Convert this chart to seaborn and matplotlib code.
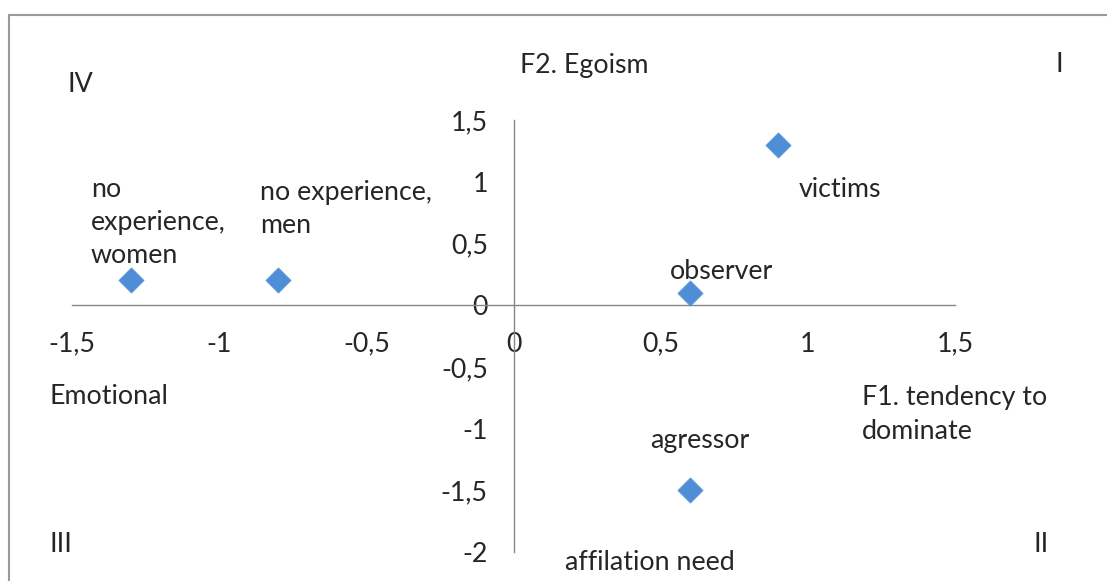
import pandas as pd
import matplotlib.pyplot as plt
import seaborn as sns
from matplotlib.lines import Line2D

# Data: groups on the two factor axes
groups = ['no\nexperience,\nwomen', 'no experience,\nmen', 'observer', 'victims', 'agressor']
f1_values = [-1.3, -0.8, 0.6, 0.9, 0.6]
f2_values = [0.2, 0.2, 0.1, 1.3, -1.5]
x_ticks = [-1.5, -1, -0.5, 0, 0.5, 1, 1.5]
x_tick_labels = ['-1,5', '-1', '-0,5', '0', '0,5', '1', '1,5']
y_ticks = [-2, -1.5, -1, -0.5, 0, 0.5, 1, 1.5]
y_tick_labels = ['-2', '-1,5', '-1', '-0,5', '0', '0,5', '1', '1,5']

df = pd.DataFrame({'F1': f1_values, 'F2': f2_values, 'Group': groups})

W, H = 1107, 581
sns.set_style('white')
plt.rcParams['font.family'] = ['Lato', 'DejaVu Sans']
FS = 19.3
AXIS_COLOR = '#868686'

fig = plt.figure(figsize=(W / 100, H / 100), dpi=100)


def px(x, y):
    # pixel position -> figure fraction
    return x / W, 1 - y / H


ax = fig.add_axes([72 / W, 1 - 552 / H, (955 - 72) / W, (552 - 120) / H])

sns.scatterplot(data=df, x='F1', y='F2', ax=ax, marker='D', s=165,
                color='#4F8ED6', edgecolor='#5B98DC', linewidth=0.5,
                legend=False, zorder=3, clip_on=False)

ax.set_xlim(-1.5, 1.5)
ax.set_ylim(-2, 1.5)
ax.set_xticks(x_ticks)
ax.set_xticklabels(x_tick_labels)
ax.set_yticks(y_ticks)
ax.set_yticklabels(y_tick_labels)
ax.set_xlabel('')
ax.set_ylabel('')

for side in ['top', 'right']:
    ax.spines[side].set_visible(False)
ax.spines['left'].set_position(('data', 0))
ax.spines['bottom'].set_position(('data', 0))
for side in ['left', 'bottom']:
    ax.spines[side].set_color(AXIS_COLOR)
    ax.spines[side].set_linewidth(1)
ax.tick_params(axis='x', direction='out', length=5, width=1, color=AXIS_COLOR,
               pad=14, labelsize=FS)
ax.tick_params(axis='y', direction='out', length=5, width=1, color=AXIS_COLOR,
               pad=13.5, labelsize=FS)
ax.patch.set_alpha(0)

# point labels
offsets = [(-40, 12, 'bottom'), (-18, 42, 'bottom'), (-20, 21, 'center'),
           (20, -45, 'center'), (-40, 50, 'center')]
for (x, y, g), (dx, dy, va) in zip(zip(f1_values, f2_values, groups), offsets):
    ax.annotate(g, (x, y), xytext=(dx, dy), textcoords='offset pixels',
                ha='left', va=va, fontsize=FS, linespacing=1.42, annotation_clip=False)

# quadrant and axis names
notes = [('IV', 68, 85), ('F2. Egoism', 520, 65), ('I', 1055, 65),
         ('Emotional', 50, 397), ('F1. tendency to\ndominate', 862, 414.5),
         ('III', 50, 545), ('II', 1033, 545), ('affilation need', 565, 563)]
for t, x, y in notes:
    fig.text(*px(x, y), t, ha='left', va='center', fontsize=FS, linespacing=1.42)

# chart border (continues past the right and bottom edges)
fig.add_artist(Line2D([9 / W, 1.01], [1 - 15 / H] * 2, color='#9a9a9a', lw=1.5,
                      transform=fig.transFigure))
fig.add_artist(Line2D([9 / W] * 2, [1 - 15 / H, -0.01], color='#9a9a9a', lw=1.5,
                      transform=fig.transFigure))

fig.savefig('out.png', dpi=100)
